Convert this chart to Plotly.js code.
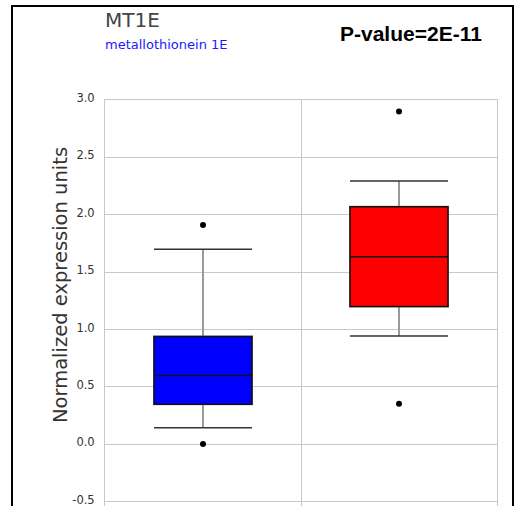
<!DOCTYPE html>
<html>
<head>
<meta charset="utf-8">
<script src="https://cdn.plot.ly/plotly-3.0.1.min.js"></script>
<style>
  html, body { margin: 0; padding: 0; background: #fff; overflow: hidden; }
  #chart { position: absolute; left: 0; top: 0; width: 514px; height: 506px; }
  #frame { position: absolute; left: 11px; top: 5px; width: 499px; height: 540px;
           border: 2px solid #000; pointer-events: none; }
</style>
</head>
<body>
<div id="chart"></div>
<div id="frame"></div>
<script>
// ---- data ----
const groups      = ["Group A", "Group B"];
const boxColors   = ["#0000ff", "#ff0000"];
const q1          = [0.35, 1.20];
const medians     = [0.60, 1.635];
const q3          = [0.94, 2.07];
const lowerFence  = [0.145, 0.943];
const upperFence  = [1.70, 2.295];
const outlierGroup  = ["Group A", "Group A", "Group B", "Group B"];
const outlierValues = [1.91, 0.003, 2.90, 0.354];
const yTicks      = [-0.5, 0.0, 0.5, 1.0, 1.5, 2.0, 2.5, 3.0];
const geneSymbol  = "MT1E";
const geneName    = "metallothionein 1E";
const pValueText  = "P-value=2E-11";
const yTitle      = "Normalized expression units";

const common = { type: "box", width: 0.5, hoverinfo: "skip", showlegend: false };
const traces = [];

// whisker stems (gray)
groups.forEach((g, i) => traces.push(Object.assign({}, common, {
  x: [g], q1: [q1[i]], median: [medians[i]], q3: [q3[i]],
  lowerfence: [lowerFence[i]], upperfence: [upperFence[i]],
  fillcolor: boxColors[i], line: { color: "#9a9a9a", width: 2 }, whiskerwidth: 0
})));
// boxes with black outline and median
groups.forEach((g, i) => traces.push(Object.assign({}, common, {
  x: [g], q1: [q1[i]], median: [medians[i]], q3: [q3[i]],
  lowerfence: [q1[i]], upperfence: [q3[i]],
  fillcolor: boxColors[i], line: { color: "#111", width: 1.5 }, whiskerwidth: 0
})));
// whisker caps (dark gray), drawn as flat boxes at the fence values
[lowerFence, upperFence].forEach(f => groups.forEach((g, i) => traces.push(Object.assign({}, common, {
  x: [g], q1: [f[i]], median: [f[i]], q3: [f[i]],
  lowerfence: [f[i]], upperfence: [f[i]],
  fillcolor: "rgba(0,0,0,0)", line: { color: "#333", width: 1.5 }, whiskerwidth: 0
}))));

traces.push({
  type: "scatter",
  mode: "markers",
  x: outlierGroup,
  y: outlierValues,
  marker: { color: "#000", size: 6 },
  hoverinfo: "skip",
  showlegend: false
});

const layout = {
  width: 514, height: 506,
  margin: { l: 105, r: 17, t: 100, b: 0 },
  paper_bgcolor: "#fff",
  plot_bgcolor: "#fff",
  showlegend: false,
  boxmode: "overlay",
  xaxis: {
    type: "category",
    categoryorder: "array",
    categoryarray: groups,
    range: [-0.5, 1.5],
    tickson: "boundaries",
    showgrid: true,
    gridcolor: "#c8c8c8",
    gridwidth: 1,
    showticklabels: false,
    ticks: "",
    showline: true,
    linecolor: "#c8c8c8",
    mirror: true,
    zeroline: false
  },
  yaxis: {
    range: [-0.537, 3.0],
    tickvals: yTicks,
    ticktext: yTicks.map(v => v.toFixed(1)),
    showgrid: true,
    gridcolor: "#c8c8c8",
    gridwidth: 1,
    zeroline: false,
    ticks: "",
    ticklabelstandoff: 7,
    ticklabelshift: -2,
    ticklabeloverflow: "allow",
    tickfont: { family: "DejaVu Sans", size: 11.5, color: "#333" },
    showline: true,
    linecolor: "#c8c8c8",
    mirror: true
  },
  annotations: [
    { text: geneSymbol, xref: "paper", yref: "paper", x: -0.005, y: 1.197,
      xanchor: "left", yanchor: "middle", showarrow: false,
      font: { family: "DejaVu Sans", size: 20, color: "#444" } },
    { text: geneName, xref: "paper", yref: "paper", x: -0.005, y: 1.136,
      xanchor: "left", yanchor: "middle", showarrow: false,
      font: { family: "DejaVu Sans", size: 13, color: "#1a1aff" } },
    { text: "<b>" + pValueText + "</b>", xref: "paper", yref: "paper", x: 0.967, y: 1.165,
      xanchor: "right", yanchor: "middle", showarrow: false,
      font: { family: "Liberation Sans", size: 21, color: "#000" } },
    { text: yTitle, xref: "paper", yref: "paper", x: -0.115, y: 0.544,
      xanchor: "center", yanchor: "middle", textangle: -90, showarrow: false,
      font: { family: "DejaVu Sans", size: 19.5, color: "#333" } }
  ]
};

Plotly.newPlot("chart", traces, layout, { displayModeBar: false, staticPlot: true });
</script>
</body>
</html>
